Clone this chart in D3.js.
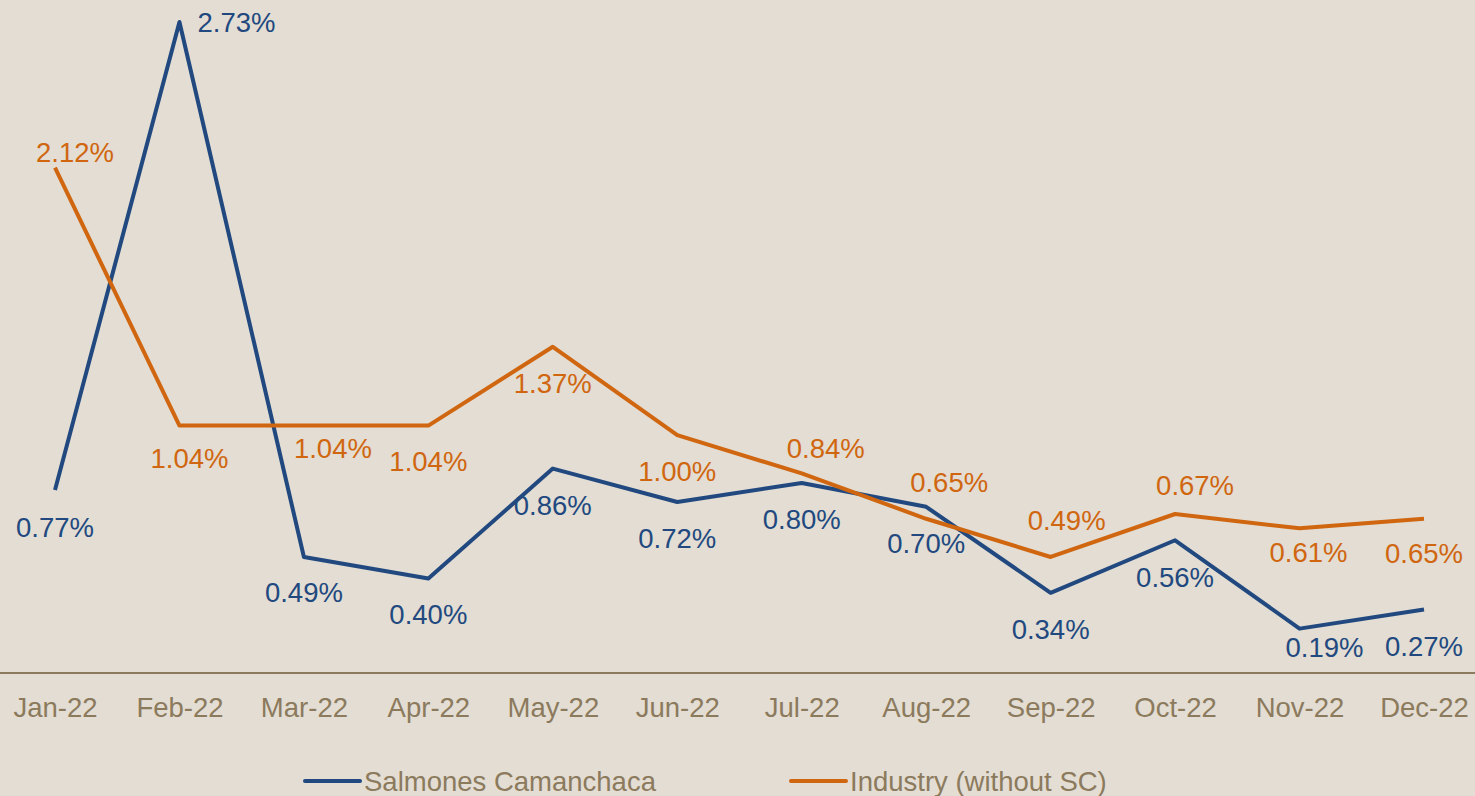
<!DOCTYPE html>
<html>
<head>
<meta charset="utf-8">
<script src="https://cdn.jsdelivr.net/npm/d3@7"></script>
<style>
  html, body { margin: 0; padding: 0; background: #E3DDD3; }
  svg { display: block; font-family: "Liberation Sans", Arial, sans-serif; }
</style>
</head>
<body>
<svg id="chart"></svg>
<script>
// data
const months = ['Jan-22','Feb-22','Mar-22','Apr-22','May-22','Jun-22','Jul-22','Aug-22','Sep-22','Oct-22','Nov-22','Dec-22']
const salmones = [0.77, 2.73, 0.49, 0.40, 0.86, 0.72, 0.80, 0.70, 0.34, 0.56, 0.19, 0.27]
const industry = [2.12, 1.04, 1.04, 1.04, 1.37, 1.00, 0.84, 0.65, 0.49, 0.67, 0.61, 0.65]
const seriesNames = ['Salmones Camanchaca', 'Industry (without SC)']

// label nudges (text centre relative to point), like excel placed them
const blueNudge = [[0,37],[57,0],[0,35],[0,36],[0,36],[0,36],[0,36],[0,36],[0,36],[0,37],[25,18],[0,36]]
const orangeNudge = [[20,-16],[10,32],[29,22],[0,35],[0,36],[0,36],[24,-25],[23,-37],[16,-37],[20,-29],[9,24],[0,34]]

const width = 1475, height = 796
const blue = '#21497F', orange = '#D0660F', axisCol = '#8C7A5D'
const fs = 27.5

const svg = d3.select('#chart')
    .attr('width', width)
    .attr('height', height)

svg.append('rect').attr('width', width).attr('height', height).attr('fill', '#E3DDD3')

const x = d3.scalePoint()
    .domain(months)
    .range([55, 1424])

const y = d3.scaleLinear()
    .domain([0, 2.73])
    .range([674, 22])

// x axis
const xAxis = svg.append('g')
    .attr('transform', 'translate(0,673)')
    .call(d3.axisBottom(x).tickSize(0).tickPadding(0))
xAxis.select('.domain').remove()
xAxis.append('line')
    .attr('x1', 0).attr('x2', width)
    .attr('stroke', axisCol).attr('stroke-width', 2)
xAxis.selectAll('.tick text')
    .attr('y', 44)
    .attr('dy', 0)
    .attr('fill', axisCol)
    .attr('font-size', fs)
    .attr('font-family', '"Liberation Sans", Arial, sans-serif')

const line = d3.line()
    .x((d, i) => x(months[i]))
    .y(d => y(d))

const series = [
    {vals: salmones, color: blue, nudge: blueNudge},
    {vals: industry, color: orange, nudge: orangeNudge}
]

series.forEach(s => {
    svg.append('path')
        .datum(s.vals)
        .attr('fill', 'none')
        .attr('stroke', s.color)
        .attr('stroke-width', 4)
        .attr('stroke-linejoin', 'round')
        .attr('d', line)
})

// labels drawn after both lines
series.forEach(s => {
    svg.append('g').selectAll('text')
        .data(s.vals)
        .join('text')
        .attr('x', (d, i) => x(months[i]) + s.nudge[i][0])
        .attr('y', (d, i) => y(d) + s.nudge[i][1] + 10)
        .attr('text-anchor', 'middle')
        .attr('font-size', fs)
        .attr('fill', s.color)
        .text(d => d.toFixed(2) + '%')
})

// legend
const legend = svg.append('g').attr('transform', 'translate(0,781)')
const legendX = [305, 791]
seriesNames.forEach((name, i) => {
    const g = legend.append('g').attr('transform', 'translate(' + legendX[i] + ',0)')
    g.append('line')
        .attr('x1', 0).attr('x2', 55)
        .attr('stroke', series[i].color)
        .attr('stroke-width', 4)
        .attr('stroke-linecap', 'round')
    g.append('text')
        .attr('x', 59)
        .attr('y', 10)
        .attr('font-size', fs)
        .attr('fill', axisCol)
        .text(name)
})
</script>
</body>
</html>
